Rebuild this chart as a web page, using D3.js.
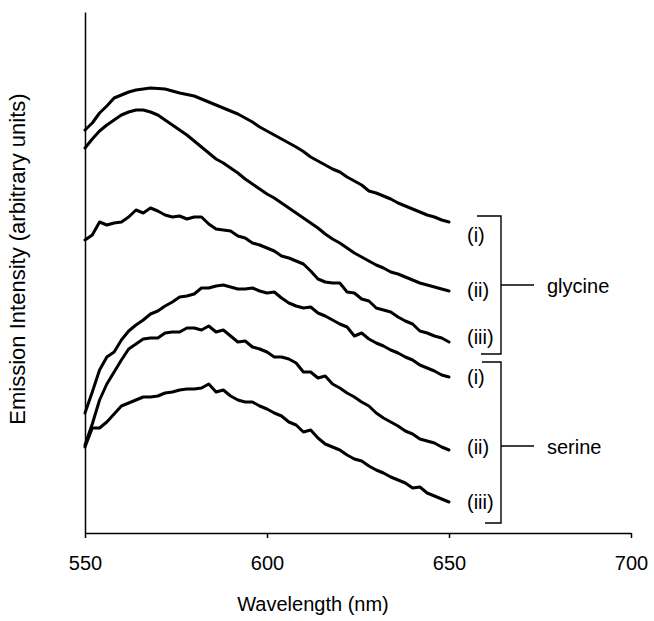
<!DOCTYPE html>
<html>
<head>
<meta charset="utf-8">
<script src="https://cdn.jsdelivr.net/npm/d3@7"></script>
<style>
    body { margin: 0; background: #fff; }
    text { font-family: Arial, "Liberation Sans", sans-serif; fill: #000; }
</style>
</head>
<body>
<div id="chart"></div>
<script>
// Data
const wavelengths = [550, 552, 554, 556, 558, 560, 562, 564, 566, 568,
    570, 572, 574, 576, 578, 580, 582, 584, 586, 588,
    590, 592, 594, 596, 598, 600, 602, 604, 606, 608,
    610, 612, 614, 616, 618, 620, 622, 624, 626, 628,
    630, 632, 634, 636, 638, 640, 642, 644, 646, 648, 650];

const glycineI = [80.6, 82, 84, 85.4, 87, 87.6, 88.2, 88.6, 88.8, 89,
    88.9, 88.8, 88.4, 88, 87.7, 87.4, 86.8, 86.2, 85.6, 85,
    84.4, 83.8, 83, 82.2, 81.2, 80.4, 79.6, 78.8, 78, 77.2,
    76.3, 75.2, 74.4, 73.6, 72.8, 72.2, 71.2, 70.4, 69.6, 68.4,
    68, 67.4, 66.8, 66, 65.4, 64.8, 64.2, 63.6, 63.2, 62.6, 62.2];

const glycineII = [77, 78.8, 80.4, 81.6, 82.6, 83.6, 84.2, 84.6, 84.6, 84.2,
    83.6, 82.6, 81.6, 80.6, 79.6, 78.4, 77.2, 76, 74.8, 74,
    73, 72, 70.8, 69.8, 68.8, 67.8, 67, 66, 65, 64,
    63, 62, 61, 59.8, 58.8, 58, 57, 56, 55.2, 54.4,
    53.6, 53, 52.2, 51.8, 51.2, 50.6, 50, 49.6, 49.2, 48.8, 48.4];

const glycineIII = [58.6, 59.6, 62.2, 61.6, 62, 62.2, 63.2, 64.6, 64, 65,
    64.4, 63.6, 63.2, 63.4, 62.8, 63.2, 63.2, 61.8, 60.8, 60.6,
    60.4, 59.4, 59, 58, 57.6, 57, 56.4, 55.4, 55, 54.4,
    53.8, 52.4, 50.8, 50.2, 50, 50, 48.2, 48, 46.8, 46.4,
    45, 44.6, 44.2, 43.2, 42.4, 41.8, 40.4, 40, 39.4, 39, 38.2];

const serineI = [24, 28.2, 32.6, 35.2, 36.2, 38.6, 40.4, 41.6, 42.6, 43.8,
    44.4, 45.4, 46.2, 47.2, 47.4, 47.8, 49, 49, 49.4, 49.6,
    49.2, 48.8, 48.8, 49, 48.4, 48, 48.2, 47, 46, 45.4,
    45, 45.2, 44, 43.4, 42.6, 41.8, 41.2, 39.4, 40, 38.8,
    38, 37.4, 36.6, 36, 35.2, 34.6, 33.6, 33, 32.4, 31.6, 31.2];

const serineII = [17.6, 21.8, 26.6, 29.8, 32.2, 34.6, 36.8, 37.8, 38.8, 39,
    39, 40, 40.2, 40.2, 41, 41, 40.6, 41.4, 40.2, 40.6,
    39.4, 38.2, 38.4, 37.2, 36.8, 36.2, 35.2, 35.2, 34.8, 34,
    32.2, 32.2, 31, 31.4, 29.8, 29, 28, 27.2, 26.2, 25.4,
    24, 23, 22.2, 21.4, 20.4, 19.8, 18.8, 18.4, 18, 17.2, 16.6];

const serineIII = [17.2, 21, 21, 22.2, 23.8, 25.4, 26, 26.6, 27.2, 27.2,
    27.4, 28, 28.2, 28.6, 28.8, 28.8, 29, 29.8, 28.2, 28.6,
    27.4, 26.6, 26.2, 26.2, 25.4, 24.8, 24, 23.4, 22.2, 21.6,
    20.2, 20.6, 19, 17.8, 17.2, 16.6, 15.6, 14.8, 14.4, 13.4,
    12.6, 12, 11.2, 10.6, 10, 9, 9.2, 8, 7.4, 6.8, 6.2];

const series = [glycineI, glycineII, glycineIII, serineI, serineII, serineIII];
const seriesLabels = ['(i)', '(ii)', '(iii)', '(i)', '(ii)', '(iii)'];
const groupNames = ['glycine', 'serine'];
const xTicks = [550, 600, 650, 700];

// Dimensions
let dimensions = {
    width: 654,
    height: 621,
    margins: { top: 12, right: 23, bottom: 88, left: 85 },
};
dimensions.containerWidth = dimensions.width - dimensions.margins.left - dimensions.margins.right;
dimensions.containerHeight = dimensions.height - dimensions.margins.top - dimensions.margins.bottom;

const svg = d3.select('#chart')
    .append('svg')
    .attr('width', dimensions.width)
    .attr('height', dimensions.height);

const container = svg.append('g')
    .attr('transform', `translate(${dimensions.margins.left}, ${dimensions.margins.top})`);

// Scales
const xScale = d3.scaleLinear()
    .domain([550, 700])
    .range([0, dimensions.containerWidth]);

const yScale = d3.scaleLinear()
    .domain([0, 104.2])
    .range([dimensions.containerHeight, 0]);

const lineGenerator = d3.line()
    .x((d, i) => xScale(wavelengths[i]))
    .y(d => yScale(d));

container.selectAll('.curve')
    .data(series)
    .join('path')
    .attr('class', 'curve')
    .attr('d', lineGenerator)
    .attr('fill', 'none')
    .attr('stroke', '#000')
    .attr('stroke-width', 3)
    .attr('stroke-linejoin', 'round')
    .attr('stroke-linecap', 'round');

// Axes
const xAxis = d3.axisBottom(xScale)
    .tickValues(xTicks)
    .tickSize(5)
    .tickSizeOuter(0)
    .tickPadding(18);

const xAxisGroup = container.append('g')
    .attr('transform', `translate(0, ${dimensions.containerHeight})`)
    .call(xAxis);

xAxisGroup.selectAll('path, line').attr('stroke', '#000').attr('stroke-width', 1.5);
xAxisGroup.selectAll('text').attr('font-size', 20).attr('font-family', 'Arial, "Liberation Sans", sans-serif');

const yAxisGroup = container.append('g')
    .call(d3.axisLeft(yScale).tickValues([]).tickSizeOuter(0));
yAxisGroup.select('path').attr('stroke', '#000').attr('stroke-width', 1.5);

// Axis titles
svg.append('text')
    .attr('x', 313)
    .attr('y', 611)
    .attr('text-anchor', 'middle')
    .attr('font-size', 20)
    .text('Wavelength (nm)');

svg.append('text')
    .attr('transform', 'translate(25, 259) rotate(-90)')
    .attr('text-anchor', 'middle')
    .attr('font-size', 22)
    .text('Emission Intensity (arbitrary units)');

// Series labels and brackets
const labelY = [235, 290, 337, 377, 447, 502];
svg.selectAll('.series-label')
    .data(seriesLabels)
    .join('text')
    .attr('class', 'series-label')
    .attr('x', 467)
    .attr('y', (d, i) => labelY[i])
    .attr('dy', '0.35em')
    .attr('font-size', 20)
    .text(d => d);

const brackets = [
    { top: 216, bottom: 354, mid: 285, x1Top: 477, x1Bottom: 481 },
    { top: 362, bottom: 523, mid: 446, x1Top: 482, x1Bottom: 485 },
];
const bracketX = 501;

brackets.forEach((b, i) => {
    svg.append('path')
        .attr('d', `M${b.x1Top},${b.top}H${bracketX}V${b.bottom}H${b.x1Bottom}M${bracketX},${b.mid}H${bracketX + 33}`)
        .attr('fill', 'none')
        .attr('stroke', '#000')
        .attr('stroke-width', 1.4);

    svg.append('text')
        .attr('x', 547)
        .attr('y', b.mid + 1)
        .attr('dy', '0.35em')
        .attr('font-size', 20)
        .text(groupNames[i]);
});
</script>
</body>
</html>
